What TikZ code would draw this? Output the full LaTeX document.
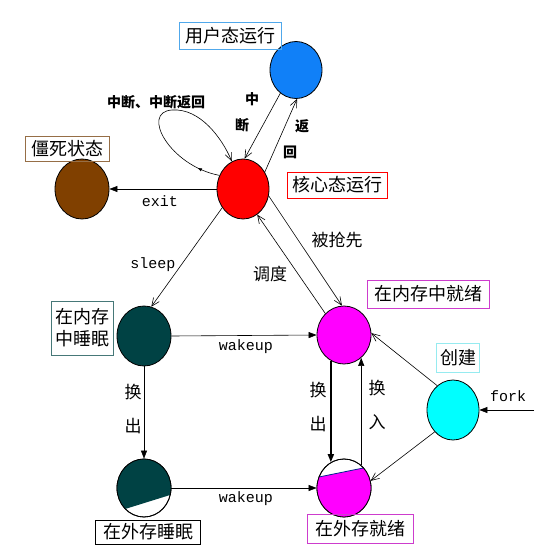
\documentclass[tikz,border=0pt]{standalone}
\usepackage{fontspec}
\setmainfont{Noto Sans CJK SC}
\newfontfamily\monof{Liberation Mono}
\usetikzlibrary{shapes.geometric,arrows.meta,decorations.markings}
\definecolor{cblue}{RGB}{16,128,248}
\definecolor{cred}{RGB}{255,0,0}
\definecolor{cbrown}{RGB}{128,64,0}
\definecolor{cdark}{RGB}{0,66,68}
\definecolor{cmag}{RGB}{255,0,255}
\definecolor{ccyan}{RGB}{0,255,255}
\definecolor{bblue}{RGB}{80,168,235}
\definecolor{bbrown}{RGB}{150,110,70}
\definecolor{bdark}{RGB}{70,120,120}
\definecolor{bmag}{RGB}{205,60,205}
\definecolor{bcyan}{RGB}{150,235,240}
\begin{document}
\begin{tikzpicture}[x=1pt,y=-1pt,
  state/.style={ellipse, draw=black, line width=0.8pt, inner sep=0pt},
  lbl/.style={draw, line width=0.8pt, inner sep=0pt, align=center, font=\fontsize{18}{22}\selectfont},
  elbl/.style={font=\fontsize{17}{19}\selectfont, inner sep=0pt},
  slbl/.style={font=\bfseries\fontsize{14}{16}\selectfont, inner sep=0pt},
  mlbl/.style={font=\monof\fontsize{15}{17}\selectfont, inner sep=0pt},
  conn/.style={line width=0.6pt},
  fa/.style={-{Triangle[length=8pt,width=6pt]}},
  oa/.style={-{Straight Barb[length=8pt,width=7pt]}}]
\useasboundingbox (0,0) rectangle (544,552);
\fill[white] (0,0) rectangle (544,552);

% states
\node[state, fill=cblue, minimum width=52pt, minimum height=57pt] (user) at (296,70) {};
\node[state, fill=cred, minimum width=52pt, minimum height=60pt] (kern) at (243,189) {};
\node[state, fill=cbrown, minimum width=54pt, minimum height=60pt] (zomb) at (82,189) {};
\node[state, fill=cdark, minimum width=54pt, minimum height=60pt] (smem) at (144,336) {};
\node[state, fill=cmag, minimum width=54pt, minimum height=58pt] (rmem) at (344,335) {};
\node[state, fill=ccyan, minimum width=52pt, minimum height=60pt] (crt) at (453,410) {};
\node[state, fill=white, minimum width=54pt, minimum height=58pt] (sdsk) at (144,488) {};
\node[state, fill=white, minimum width=54pt, minimum height=58pt] (rdsk) at (344,488) {};

\begin{scope}
  \clip (sdsk.center) ellipse [x radius=27pt, y radius=29pt];
  \fill[cdark] (110,513.7) -- (180,491.9) -- (180,450) -- (110,450) -- cycle;
\end{scope}
\draw[line width=0.8pt] (sdsk.center) ellipse [x radius=27pt, y radius=29pt];
\begin{scope}
  \clip (rdsk.center) ellipse [x radius=27pt, y radius=29pt];
  \fill[cmag] (310,478.8) -- (380,464.6) -- (380,525) -- (310,525) -- cycle;
  \draw[line width=0.8pt, cdark!60!blue] (310,478.8) -- (380,464.6);
\end{scope}
\draw[line width=0.8pt] (rdsk.center) ellipse [x radius=27pt, y radius=29pt];

% state labels
\node[lbl, draw=bblue, minimum width=102pt, minimum height=27pt] (luser) at (230,36) {用户态运行};
\node[lbl, draw=bbrown, minimum width=84pt, minimum height=25pt] (lzomb) at (67,149) {僵死状态};
\node[lbl, draw=cred, minimum width=100pt, minimum height=26pt] (lkern) at (337,185) {核心态运行};
\node[lbl, draw=bdark, minimum width=62pt, minimum height=54pt] (lsmem) at (82,328) {在内存\\中睡眠};
\node[lbl, draw=bmag, minimum width=122pt, minimum height=28pt] (lrmem) at (428,294) {在内存中就绪};
\node[lbl, draw=bcyan, minimum width=43pt, minimum height=29pt] (lcrt) at (458,358) {创建};
\node[lbl, draw=black, minimum width=105pt, minimum height=24pt] (lsdsk) at (148,532) {在外存睡眠};
\node[lbl, draw=bmag, minimum width=106pt, minimum height=29pt] (lrdsk) at (360,529) {在外存就绪};

% connectors
\draw[conn, oa] (user.236) -- (kern.87);
\draw[conn, oa] (kern.38) -- (user.272);
\draw[conn, oa, postaction={decorate}, decoration={markings, mark=at position 0.12 with {\arrow{Triangle[length=4pt,width=3pt]}}}]
  (kern.150) .. controls (170,166) and (140,112) .. (172,110)
  .. controls (200,108) and (222,138) .. (kern.112);
\draw[conn, fa] (kern.west) -- (zomb.east);
\draw[conn, oa] (kern.222) -- (smem.76);
\draw[conn, oa] (rmem.131) -- (kern.299);
\draw[conn, oa] (kern.345) -- (rmem.94);
\draw[conn, fa] (smem.east) -- (rmem.west);
\draw[line width=1.6pt, fa] (rmem.243) -- (rdsk.117);
\draw[conn, fa] (rdsk.53) -- (rmem.307);
\draw[conn, fa] (smem.south) -- (sdsk.north);
\draw[conn, fa] (sdsk.east) -- (rdsk.west);
\draw[conn, oa] (crt.123) -- (rmem.4);
\draw[conn, oa] (crt.230) -- (rdsk.15);
\coordinate (forkin) at (534,410);
\draw[conn, fa] (forkin) -- (crt.east);

% edge labels
\node[slbl] (t1) at (156,102) {中断、中断返回};
\node[slbl] (t2) at (252,99) {中};
\node[slbl] (t3) at (242,125) {断};
\node[slbl] (t4) at (302,126) {返};
\node[slbl] (t5) at (290,152) {回};
\node[mlbl] (t6) at (160,201) {exit};
\node[mlbl] (t7) at (153,265) {sleep};
\node[elbl] (t8) at (270,274) {调度};
\node[elbl] (t9) at (337,240) {被抢先};
\node[mlbl] (t10) at (246,347) {wakeup};
\node[mlbl] (t11) at (246,499) {wakeup};
\node[elbl] (t12) at (133,392) {换};
\node[elbl] (t13) at (133,426) {出};
\node[elbl] (t14) at (318,390) {换};
\node[elbl] (t15) at (318,424) {出};
\node[elbl] (t16) at (377,388) {换};
\node[elbl] (t17) at (377,422) {入};
\node[mlbl] (t18) at (508,396) {fork};
\end{tikzpicture}
\end{document}
